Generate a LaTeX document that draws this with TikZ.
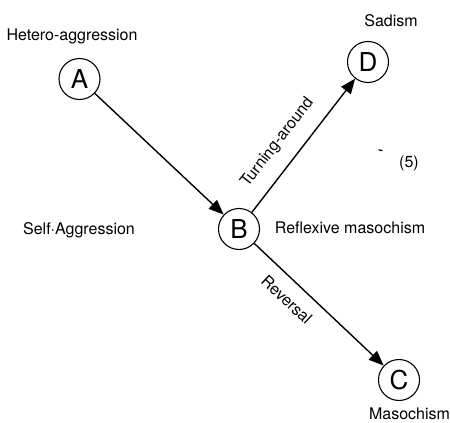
\documentclass[tikz,border=0pt]{standalone}
\usepackage{fontspec}
\setmainfont{TeX Gyre Heros}
\usetikzlibrary{arrows.meta}
\begin{document}
\begin{tikzpicture}[x=1pt,y=-1pt,
  state/.style={circle,draw,line width=1.1pt,minimum size=41pt,inner sep=0pt,
    font=\fontsize{26}{26}\selectfont},
  lbl/.style={font=\fontsize{16}{16}\selectfont,inner sep=0pt},
  arr/.style={line width=1.4pt,-{Triangle[length=15pt,width=12pt]}}]
\useasboundingbox (0,0) rectangle (450,423);
\node[state] (A) at (79.5,79) {A};
\node[state] (B) at (239,229) {B};
\node[state] (D) at (368,62) {D};
\node[state] (C) at (399,380) {C};
\node[lbl] (tA) at (72,36) {Hetero-aggression};
\node[lbl] (tD) at (391,21) {Sadism};
\node[lbl] (tS) at (79,230) {Self·Aggression};
\node[lbl] (tB) at (350,228) {Reflexive masochism};
\node[lbl] (t5) at (409,163) {(5)};
\node[lbl] (tC) at (409.5,414) {Masochism};
\coordinate (m1) at (378.5,149.8);
\coordinate (m2) at (382.5,150.6);
\draw[line width=1.2pt] (m1) -- (m2);
\draw[arr] (A) -- (B);
\draw[arr] (B) -- node[lbl,sloped,above=14pt,pos=0.42] {Turning-around} (D);
\draw[arr] (B) -- node[lbl,sloped,below=12pt,pos=0.35] {Reversal} (C);
\end{tikzpicture}
\end{document}
